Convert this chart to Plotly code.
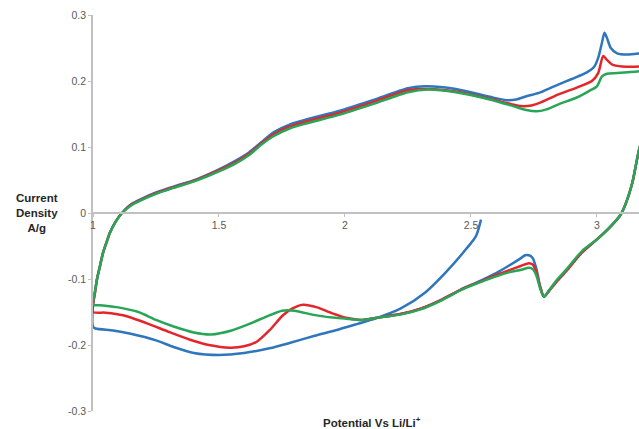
import plotly.graph_objects as go

# ---- data (potential V vs Li/Li+, current density A/g) ----
blue_x = [2.54, 2.52, 2.48, 2.40, 2.32, 2.22, 2.12, 2.05, 1.96, 1.88, 1.78, 1.70, 1.60, 1.50, 1.40, 1.32, 1.25, 1.15, 1.08, 1.01, 1.0,
          1.0, 1.008, 1.016, 1.028, 1.04, 1.055, 1.067, 1.09, 1.115, 1.15, 1.19, 1.25, 1.32, 1.41, 1.50, 1.57, 1.62, 1.67, 1.72, 1.78, 1.85,
          1.98, 2.11, 2.25, 2.32, 2.44, 2.575, 2.64, 2.68, 2.72, 2.77, 2.83, 2.90, 2.96, 2.99, 3.005, 3.02, 3.03, 3.04, 3.055, 3.08,
          3.12, 3.17, 3.22, 3.25, 3.24, 3.21, 3.17, 3.14, 3.11, 3.09, 3.05, 3.0, 2.94, 2.88, 2.84, 2.81, 2.79, 2.775, 2.76, 2.745,
          2.73, 2.715, 2.70, 2.65, 2.60, 2.53, 2.46, 2.38, 2.30, 2.22, 2.14, 2.07]
blue_y = [-0.010, -0.035, -0.055, -0.090, -0.120, -0.145, -0.160, -0.168, -0.178, -0.186, -0.197, -0.205, -0.212, -0.215, -0.212, -0.203, -0.193, -0.183, -0.178, -0.175, -0.172,
          -0.140, -0.120, -0.100, -0.080, -0.060, -0.043, -0.030, -0.013, 0.000, 0.013, 0.021, 0.031, 0.040, 0.051, 0.066, 0.080, 0.092, 0.108, 0.123, 0.134, 0.142,
          0.155, 0.171, 0.189, 0.192, 0.188, 0.176, 0.171, 0.172, 0.177, 0.182, 0.192, 0.203, 0.213, 0.222, 0.235, 0.258, 0.273, 0.265, 0.250, 0.242,
          0.240, 0.242, 0.245, 0.245, 0.200, 0.140, 0.100, 0.045, 0.010, -0.005, -0.022, -0.040, -0.060, -0.087, -0.104, -0.118, -0.127, -0.112, -0.085, -0.068,
          -0.064, -0.064, -0.068, -0.080, -0.091, -0.104, -0.116, -0.132, -0.145, -0.153, -0.158, -0.162]

red_x = [1.0, 1.0, 1.008, 1.016, 1.028, 1.04, 1.055, 1.067, 1.09, 1.115, 1.15, 1.19, 1.25, 1.32, 1.41, 1.50, 1.57, 1.62, 1.67, 1.72, 1.78, 1.85,
         1.98, 2.11, 2.25, 2.33, 2.44, 2.575, 2.66, 2.70, 2.74, 2.78, 2.85, 2.92, 2.98, 3.005, 3.025, 3.04, 3.06, 3.10, 3.17, 3.22,
         3.25, 3.24, 3.21, 3.17, 3.14, 3.11, 3.09, 3.05, 3.0, 2.94, 2.88, 2.84, 2.81, 2.79, 2.775, 2.76, 2.745, 2.73, 2.70, 2.65,
         2.60, 2.53, 2.46, 2.38, 2.30, 2.22, 2.14, 2.07, 2.01, 1.95, 1.89, 1.833, 1.79, 1.754, 1.70, 1.65, 1.60, 1.544, 1.46, 1.385,
         1.30, 1.22, 1.12, 1.05, 1.0]
red_y = [-0.150, -0.140, -0.120, -0.100, -0.080, -0.060, -0.043, -0.030, -0.013, 0.000, 0.012, 0.020, 0.030, 0.039, 0.050, 0.065, 0.078, 0.090, 0.106, 0.120, 0.131, 0.139,
         0.152, 0.168, 0.186, 0.188, 0.184, 0.173, 0.165, 0.162, 0.163, 0.168, 0.180, 0.190, 0.200, 0.212, 0.238, 0.232, 0.225, 0.222, 0.222, 0.225,
         0.225, 0.190, 0.140, 0.100, 0.045, 0.010, -0.005, -0.022, -0.040, -0.060, -0.087, -0.104, -0.118, -0.127, -0.112, -0.090, -0.078, -0.076, -0.080, -0.087,
         -0.094, -0.105, -0.116, -0.132, -0.145, -0.153, -0.158, -0.162, -0.159, -0.152, -0.143, -0.139, -0.145, -0.155, -0.178, -0.195, -0.202, -0.204, -0.200, -0.192,
         -0.180, -0.168, -0.155, -0.151, -0.150]

green_x = [1.0, 1.0, 1.008, 1.016, 1.028, 1.04, 1.055, 1.067, 1.09, 1.115, 1.15, 1.19, 1.25, 1.32, 1.41, 1.50, 1.57, 1.62, 1.67, 1.72, 1.78, 1.85,
           1.98, 2.11, 2.25, 2.33, 2.44, 2.575, 2.667, 2.72, 2.76, 2.80, 2.85, 2.92, 2.97, 3.0, 3.02, 3.04, 3.08, 3.17, 3.22,
           3.25, 3.24, 3.21, 3.17, 3.14, 3.11, 3.09, 3.05, 3.0, 2.94, 2.88, 2.84, 2.81, 2.79, 2.775, 2.76, 2.745, 2.73, 2.70, 2.65,
           2.60, 2.53, 2.46, 2.38, 2.30, 2.22, 2.14, 2.07, 2.0, 1.92, 1.87, 1.80, 1.75, 1.70, 1.62, 1.55, 1.47, 1.40, 1.32, 1.25,
           1.18, 1.10, 1.04, 1.0]
green_y = [-0.139, -0.135, -0.118, -0.100, -0.080, -0.060, -0.043, -0.030, -0.013, 0.000, 0.011, 0.019, 0.029, 0.038, 0.049, 0.063, 0.076, 0.088, 0.104, 0.117, 0.128, 0.136,
           0.149, 0.165, 0.183, 0.187, 0.183, 0.172, 0.162, 0.156, 0.154, 0.157, 0.165, 0.175, 0.185, 0.192, 0.207, 0.211, 0.212, 0.215, 0.218,
           0.220, 0.180, 0.140, 0.100, 0.045, 0.010, -0.005, -0.022, -0.040, -0.058, -0.085, -0.102, -0.117, -0.127, -0.115, -0.095, -0.085, -0.083, -0.086, -0.090,
           -0.096, -0.106, -0.117, -0.133, -0.146, -0.154, -0.158, -0.162, -0.160, -0.157, -0.154, -0.148, -0.148, -0.155, -0.168, -0.178, -0.184, -0.181, -0.172, -0.162,
           -0.150, -0.143, -0.140, -0.139]

x_ticks = [1, 1.5, 2, 2.5, 3]
x_ticklabels = ["1", "1.5", "2", "2.5", "3"]
y_ticks = [-0.3, -0.2, -0.1, 0, 0.1, 0.2, 0.3]
y_ticklabels = ["-0.3", "-0.2", "-0.1", "0", "0.1", "0.2", "0.3"]

fig = go.Figure()
for xs, ys, col in [(blue_x, blue_y, "#2f76bd"), (red_x, red_y, "#e3262b"), (green_x, green_y, "#28a556")]:
    fig.add_trace(go.Scatter(x=xs, y=ys, mode="lines",
                             line=dict(color=col, width=2.5, shape="spline", smoothing=0.7),
                             showlegend=False, hoverinfo="skip"))

tickfont = dict(family="Liberation Sans, Arial, sans-serif", size=10.5, color="#595959")
fig.update_layout(
    width=639, height=429,
    margin=dict(l=93, r=0, t=15, b=18),
    paper_bgcolor="white", plot_bgcolor="white",
    xaxis=dict(range=[1, 3.167], anchor="free", position=0.5, showline=True, linecolor="#c0c0c0", linewidth=1.5,
               tickvals=x_ticks, ticktext=x_ticklabels, ticks="outside", ticklen=3, tickcolor="#c0c0c0",
               showgrid=False, zeroline=False, tickfont=tickfont),
    yaxis=dict(range=[-0.3, 0.3], domain=[0, 1], showline=True, linecolor="#c0c0c0", linewidth=1.5,
               tickvals=y_ticks, ticktext=y_ticklabels, ticks="outside", ticklen=3, tickcolor="#c0c0c0",
               showgrid=False, zeroline=False, tickfont=tickfont),
    annotations=[
        dict(text="<b>Current<br>Density<br>A/g</b>", xref="paper", yref="paper", x=-0.1026, y=0.5,
             xanchor="center", yanchor="middle", showarrow=False, align="center",
             font=dict(family="Liberation Sans, Arial, sans-serif", size=11.5, color="#262626")),
        dict(text="<b>Potential Vs Li/Li<sup>+</sup></b>", xref="paper", yref="paper", x=(372 - 93) / 546, y=-0.028,
             xanchor="center", yanchor="middle", showarrow=False,
             font=dict(family="Liberation Sans, Arial, sans-serif", size=11.5, color="#262626")),
    ],
)
fig.write_html("out.html", config={"displayModeBar": False},
               post_script="document.body.style.margin='0';document.body.style.overflow='hidden';")
